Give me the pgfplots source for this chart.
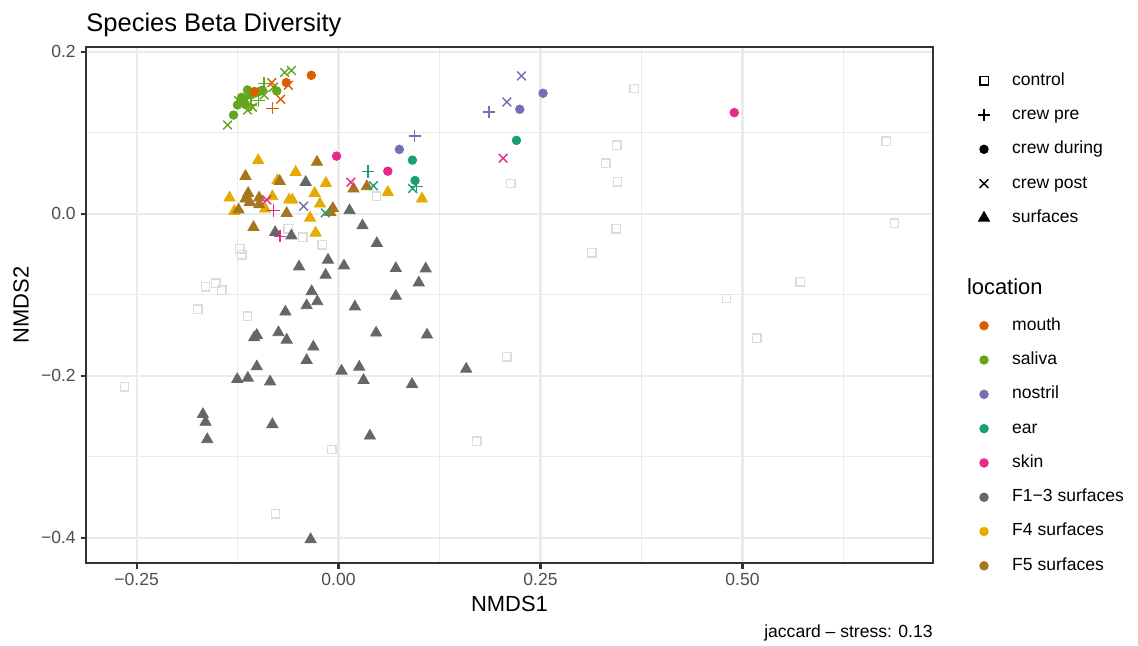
\documentclass[border=0pt]{standalone}
\usepackage{pgfplots}
\pgfplotsset{compat=1.18}
\usepackage{fontspec}
\setmainfont{Liberation Sans}

\definecolor{cmouth}{HTML}{D95F02}
\definecolor{csaliva}{HTML}{66A61E}
\definecolor{cnostril}{HTML}{7570B3}
\definecolor{cear}{HTML}{1B9E77}
\definecolor{cskin}{HTML}{E7298A}
\definecolor{cfa}{HTML}{666666}
\definecolor{cfb}{HTML}{E6AB02}
\definecolor{cfc}{HTML}{A6761D}
\definecolor{cctrl}{HTML}{DCDCDC}
\definecolor{gridc}{HTML}{EBEBEB}
\definecolor{borderc}{HTML}{333333}
\definecolor{tickc}{HTML}{4D4D4D}

\pgfplotsset{
  ctrl/.style={only marks, mark=square, mark size=2.1bp, color=#1, line width=0.71bp},
  pre/.style={only marks, mark=+, mark size=3.07bp, color=#1, line width=0.71bp},
  during/.style={only marks, mark=*, mark size=2.15bp, color=#1, mark options={draw=none}},
  post/.style={only marks, mark=x, mark size=3.07bp, color=#1, line width=0.71bp},
  surf/.style={only marks, mark=triangle*, mark size=3.2bp, color=#1, mark options={draw=none}},
  keylegend/.style={
    legend image code/.code={\path[draw=none, fill=none] (-8.6bp,-2bp) rectangle (8.6bp,2bp); \draw[##1] plot coordinates {(0bp,0bp)};},
    legend cell align=left,
    legend style={draw=none, fill=none, inner sep=0pt, outer sep=0pt,
      column sep=5.5bp, row sep=8.35bp,
      font=\fontsize{8.8pt}{10pt}\selectfont,
      nodes={inner sep=0pt, text height=6.6bp, text depth=2.2bp}},
  },
}

% control samples
\pgfplotstableread{
x y
-0.1222 -0.0429
-0.1198 -0.0507
-0.1646 -0.0900
-0.1519 -0.0854
-0.1444 -0.0941
-0.1744 -0.1176
-0.1127 -0.1262
-0.2649 -0.2137
-0.0781 -0.3700
-0.0086 -0.2908
-0.0621 -0.0186
-0.0444 -0.0290
-0.0201 -0.0380
0.0469 0.0218
0.2132 0.0375
0.2083 -0.1766
0.1712 -0.2806
0.3660 0.1547
0.3446 0.0849
0.3309 0.0626
0.3453 0.0396
0.3437 -0.0182
0.3132 -0.0479
0.6778 0.0899
0.6881 -0.0116
0.5712 -0.0838
0.4802 -0.1045
0.5178 -0.1535
}\ctrltab

% F1-3 surfaces
\pgfplotstableread{
x y
-0.0407 0.0391
-0.0785 -0.0228
-0.0584 -0.0269
0.0136 0.0041
0.0296 -0.0145
0.0474 -0.0364
-0.0489 -0.0652
-0.0131 -0.0569
-0.0160 -0.0755
0.0067 -0.0640
0.0709 -0.0673
0.1079 -0.0677
0.0993 -0.0850
-0.0333 -0.0958
-0.0263 -0.1082
-0.0395 -0.1131
0.0709 -0.1015
-0.0658 -0.1209
0.0202 -0.1147
-0.1012 -0.1498
-0.1044 -0.1527
-0.0744 -0.1465
-0.0642 -0.1556
0.0465 -0.1469
0.1095 -0.1494
-0.0312 -0.1642
-0.0395 -0.1807
-0.1012 -0.1886
0.0037 -0.1939
0.0256 -0.1890
0.0309 -0.2054
0.0910 -0.2104
0.1580 -0.1915
-0.1254 -0.2042
-0.1123 -0.2026
-0.0847 -0.2072
-0.1679 -0.2475
-0.1646 -0.2571
-0.1625 -0.2785
-0.0819 -0.2599
0.0388 -0.2740
-0.0346 -0.4019
}\fatab

% F4 surfaces
\pgfplotstableread{
x y
-0.0995 0.0660
-0.0531 0.0515
-0.0757 0.0412
-0.0156 0.0379
-0.0296 0.0255
-0.1349 0.0198
-0.0819 0.0214
-0.0612 0.0173
-0.0572 0.0173
-0.0230 0.0124
-0.1291 0.0032
-0.0909 0.0062
-0.0353 -0.0050
-0.0284 -0.0235
0.0610 0.0267
0.1033 0.0186
}\fbtab

% F5 surfaces
\pgfplotstableread{
x y
-0.1152 0.0465
-0.0267 0.0639
-0.0728 0.0403
-0.1119 0.0255
-0.1152 0.0186
-0.1099 0.0144
-0.0983 0.0198
-0.0983 0.0115
-0.1238 0.0050
-0.0642 0.0007
-0.1053 -0.0166
-0.0070 0.0068
-0.0102 0.0020
0.0185 0.0309
0.0350 0.0338
}\fctab

% crew samples
\pgfplotstableread{
x y
-0.1300 0.1220
-0.1251 0.1344
-0.1210 0.1386
-0.1168 0.1427
-0.1127 0.1530
-0.1086 0.1468
-0.1041 0.1489
-0.0983 0.1510
-0.0942 0.1526
-0.0765 0.1517
-0.1152 0.1349
-0.1201 0.1439
}\salivaduring
\pgfplotstableread{
x y
-0.1374 0.1097
-0.0667 0.1745
-0.0584 0.1770
-0.0921 0.1468
-0.1127 0.1282
-0.1065 0.1316
-0.0806 0.1563
-0.1238 0.1399
}\salivapost
\pgfplotstableread{
x y
-0.0921 0.1612
-0.1086 0.1344
-0.0991 0.1399
}\salivapre

\begin{document}
\begin{tikzpicture}[x=1bp,y=1bp]
\path[use as bounding box] (0,0) rectangle (569,322.5);
\begin{axis}[
  at={(43bp,41bp)}, anchor=south west,
  scale only axis, width=423.5bp, height=258bp,
  xmin=-0.3126, xmax=0.7358, ymin=-0.431, ymax=0.206,
  xtick={-0.25,0,0.25,0.5}, xticklabels={−0.25,0.00,0.25,0.50},
  ytick={-0.4,-0.2,0,0.2}, yticklabels={−0.4,−0.2,0.0,0.2},
  minor xtick={-0.125,0.125,0.375,0.625},
  minor ytick={-0.3,-0.1,0.1},
  grid=both,
  major grid style={draw=gridc, line width=1.07bp},
  minor grid style={draw=gridc, line width=0.53bp},
  axis line style={draw=borderc, line width=1.07bp},
  tick align=outside, tick pos=left,
  major tick length=2.75bp, minor tick length=0pt,
  major tick style={draw=borderc, line width=1.07bp},
  tick label style={font=\fontsize{8.8pt}{10pt}\selectfont, text=tickc, inner sep=2.2bp},
  clip=false,
  keylegend,
  legend style={at={(1.0399,0.9517)}, anchor=north west},
]
\addplot[ctrl=cctrl, forget plot] table {\ctrltab};
\addplot[surf=cfa, forget plot] table {\fatab};
\addplot[surf=cfb, forget plot] table {\fbtab};
\addplot[surf=cfc, forget plot] table {\fctab};

\addplot[during=csaliva, forget plot] table {\salivaduring};
\addplot[post=csaliva, forget plot] table {\salivapost};
\addplot[pre=csaliva, forget plot] table {\salivapre};

\addplot[during=cmouth, forget plot] coordinates {(-0.0337,0.1711) (-0.0646,0.1621) (-0.1044,0.1510)};
\addplot[post=cmouth, forget plot] coordinates {(-0.0621,0.1588) (-0.0716,0.1415) (-0.0827,0.1621)};
\addplot[pre=cmouth, forget plot] coordinates {(-0.0819,0.1303)};

\addplot[during=cnostril, forget plot] coordinates {(0.2243,0.1291) (0.2531,0.1489) (0.0753,0.0796)};
\addplot[post=cnostril, forget plot] coordinates {(0.2264,0.1703) (0.2083,0.1381) (-0.0432,0.0094)};
\addplot[pre=cnostril, forget plot] coordinates {(0.1860,0.1257) (0.0943,0.0960)};

\addplot[during=cear, forget plot] coordinates {(0.2202,0.0907) (0.0914,0.0663) (0.0947,0.0412)};
\addplot[post=cear, forget plot] coordinates {(0.0432,0.0347) (0.0918,0.0313) (-0.0164,0.0012)};
\addplot[pre=cear, forget plot] coordinates {(0.0363,0.0523) (0.0968,0.0338)};

\addplot[during=cskin, forget plot] coordinates {(0.4898,0.1250) (-0.0025,0.0713) (0.0610,0.0527)};
\addplot[post=cskin, forget plot] coordinates {(0.2037,0.0688) (0.0153,0.0391) (-0.0889,0.0173)};
\addplot[pre=cskin, forget plot] coordinates {(-0.0806,0.0041) (-0.0723,-0.0277)};

\addlegendimage{ctrl=black}\addlegendentry{control}
\addlegendimage{pre=black}\addlegendentry{crew pre}
\addlegendimage{during=black}\addlegendentry{crew during}
\addlegendimage{post=black}\addlegendentry{crew post}
\addlegendimage{surf=black}\addlegendentry{surfaces}
\end{axis}

% colour key for sampling location
\begin{axis}[
  at={(43bp,41bp)}, anchor=south west,
  scale only axis, width=423.5bp, height=258bp,
  hide axis, xmin=0, xmax=1, ymin=0, ymax=1,
  keylegend,
  legend style={at={(1.0399,0.4769)}, anchor=north west},
]
\addplot[draw=none, forget plot] coordinates {(0.5,0.5)};
\addlegendimage{during=cmouth}\addlegendentry{mouth}
\addlegendimage{during=csaliva}\addlegendentry{saliva}
\addlegendimage{during=cnostril}\addlegendentry{nostril}
\addlegendimage{during=cear}\addlegendentry{ear}
\addlegendimage{during=cskin}\addlegendentry{skin}
\addlegendimage{during=cfa}\addlegendentry{F1−3 surfaces}
\addlegendimage{during=cfb}\addlegendentry{F4 surfaces}
\addlegendimage{during=cfc}\addlegendentry{F5 surfaces}
\end{axis}

\node[anchor=base west, inner sep=0pt, font=\fontsize{12.8pt}{15pt}\selectfont] at (43,307) {Species Beta Diversity};
\node[anchor=base, font=\fontsize{11pt}{13pt}\selectfont] at (254.75,17) {NMDS1};
\node[anchor=base, rotate=90, font=\fontsize{11pt}{13pt}\selectfont] at (14.3,170) {NMDS2};
\node[anchor=base west, font=\fontsize{11pt}{13pt}\selectfont, inner sep=0pt] at (483.3,175.5) {location};
\node[anchor=base east, font=\fontsize{8.8pt}{10pt}\selectfont, inner sep=0pt] at (466.5,4) {jaccard – stress: 0.13};
\end{tikzpicture}
\end{document}
